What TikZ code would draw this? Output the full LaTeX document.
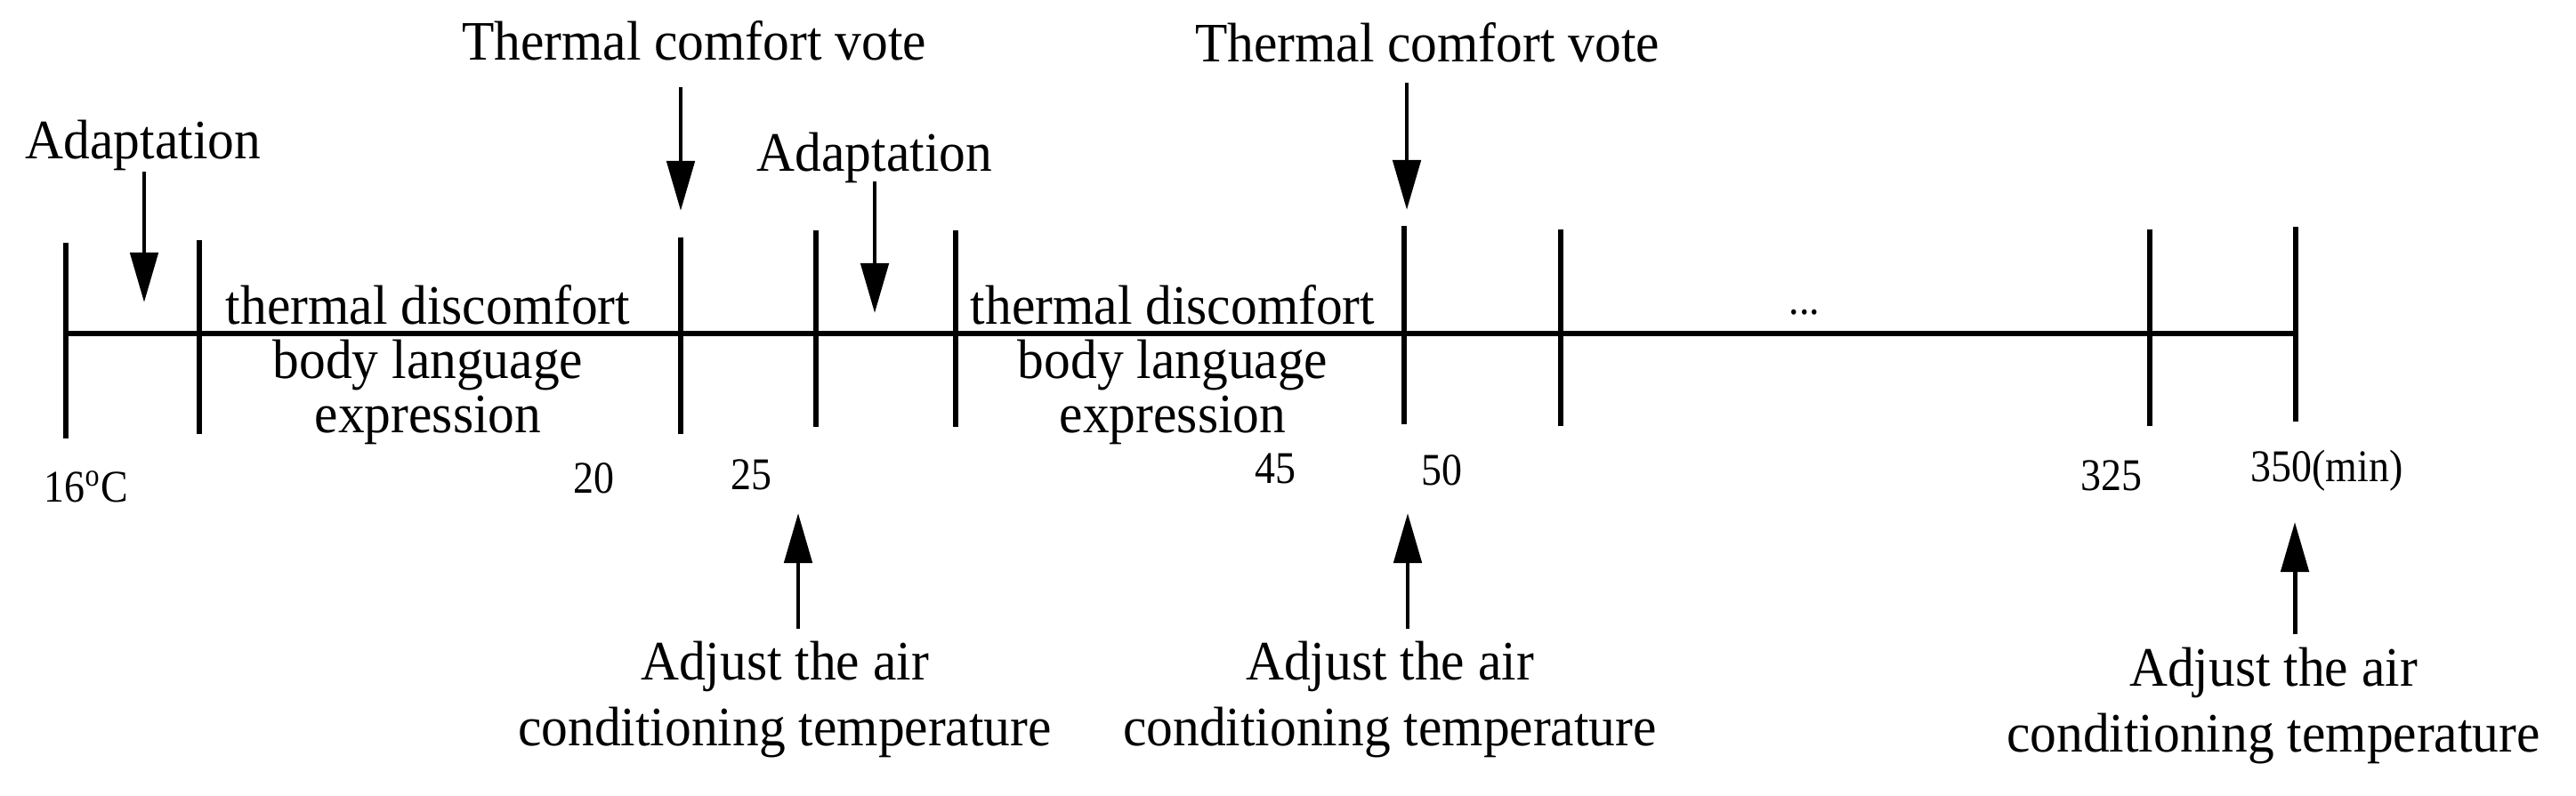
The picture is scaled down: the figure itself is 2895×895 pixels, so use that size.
\documentclass[tikz,border=0pt]{standalone}
\usepackage{fontspec}
\setmainfont{Liberation Serif}
\newfontfamily\condserif[FakeStretch=0.95]{Liberation Serif}
\newfontfamily\numserif[FakeStretch=0.9]{Liberation Serif}
\usetikzlibrary{arrows.meta}
\begin{document}
\begin{tikzpicture}[x=0.01cm,y=-0.01cm,
  lbl/.style={inner sep=0pt, anchor=base, align=center, font=\condserif\fontsize{17.8}{17.35}\selectfont},
  adj/.style={inner sep=0pt, anchor=base, align=center, font=\condserif\fontsize{17.8}{20.8}\selectfont},
  num/.style={inner sep=0pt, anchor=base, font=\numserif\fontsize{14.5}{14.5}\selectfont},
  tickline/.style={line width=1.5pt},
  axisline/.style={line width=1.7pt},
  arr/.style={line width=1.4pt, -{Triangle[length=0.56cm,width=0.31cm]}},
]
\useasboundingbox (0,0) rectangle (2895,895);

% axis
\coordinate (ax0) at (74,375);
\coordinate (ax1) at (2580,375);
\draw[axisline] (ax0) -- (ax1);

% ticks
\foreach \n/\x/\a/\b in {1/74/273/493, 2/224/270/488, 3/765/267/488, 4/917/259/480, 5/1074/259/480,
                          6/1578/254/477, 7/1754/258/479, 8/2416/258/479, 9/2580/255/474}{
  \coordinate (t\n a) at (\x,\a);
  \coordinate (t\n b) at (\x,\b);
  \draw[tickline] (t\n a) -- (t\n b);
}

% top labels
\node[lbl] (adapt1) at (161,179) {Adaptation};
\node[lbl] (tcv1) at (780,68) {Thermal comfort vote};
\node[lbl] (adapt2) at (983,193) {Adaptation};
\node[lbl] (tcv2) at (1604,70) {Thermal comfort vote};

% down arrows
\coordinate (a1s) at (162,193); \coordinate (a1e) at (162,340);
\coordinate (v1s) at (765,98);  \coordinate (v1e) at (765,237);
\coordinate (a2s) at (983,204); \coordinate (a2e) at (983,352);
\coordinate (v2s) at (1581,93); \coordinate (v2e) at (1581,236);
\draw[arr] (a1s) -- (a1e);
\draw[arr] (v1s) -- (v1e);
\draw[arr] (a2s) -- (a2e);
\draw[arr] (v2s) -- (v2e);

% interval texts (base anchor = baseline of the last line)
\node[lbl] (disc1) at (481,487) {thermal discomfort\\body language\\expression};
\node[lbl] (disc2) at (1318,487) {thermal discomfort\\body language\\expression};
\node[num] (dots) at (2028,354) {...};

% time labels
\node[num] (n16) at (97,565) {16\textsuperscript{o}C};
\node[num] (n20) at (667,555) {20};
\node[num] (n25) at (844,551) {25};
\node[num] (n45) at (1433,544) {45};
\node[num] (n50) at (1620,546) {50};
\node[num] (n325) at (2373,552) {325};
\node[num] (n350) at (2615,542) {350(min)};

% up arrows
\coordinate (u1s) at (897,707);  \coordinate (u1e) at (897,577);
\coordinate (u2s) at (1582,707); \coordinate (u2e) at (1582,577);
\coordinate (u3s) at (2579,713); \coordinate (u3e) at (2579,587);
\draw[arr] (u1s) -- (u1e);
\draw[arr] (u2s) -- (u2e);
\draw[arr] (u3s) -- (u3e);

\node[adj] (adj1) at (882,838) {Adjust the air\\conditioning temperature};
\node[adj] (adj2) at (1562,838) {Adjust the air\\conditioning temperature};
\node[adj] (adj3) at (2555,845) {Adjust the air\\conditioning temperature};
\end{tikzpicture}
\end{document}
